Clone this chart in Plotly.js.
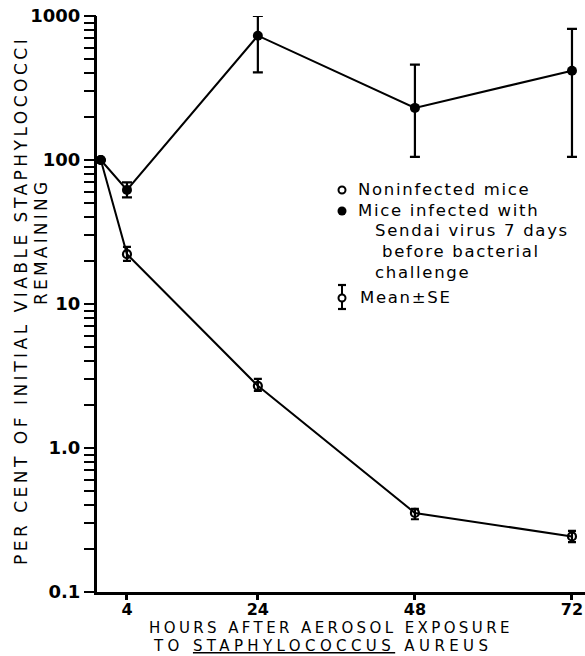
<!DOCTYPE html>
<html>
<head>
<meta charset="utf-8">
<script src="https://cdn.plot.ly/plotly-3.0.1.min.js"></script>
<style>html,body{margin:0;padding:0;background:#fff}#chart{width:585px;height:656px}</style>
</head>
<body>
<div id="chart"></div>
<script>
// ---- data ----
const hours = [0, 4, 24, 48, 72];
const noninfected = [100, 22.2, 2.7, 0.354, 0.243];
const noninfectedPlus = [null, 2.7, 0.32, 0.024, 0.023];
const noninfectedMinus = [null, 2.3, 0.21, 0.034, 0.021];
const infected = [100, 62, 730, 230, 417];
const infectedPlus = [null, 8, 270, 229, 396];
const infectedMinus = [null, 7, 324, 125, 312];
const xTickVals = [4, 24, 48, 72];
const xTickText = ["4", "24", "48", "72"];
const yMajorVals = [0.1, 1, 10, 100, 1000];
const yMajorText = ["0.1", "1.0", "10", "100", "1000"];
const legendLines = [
  "Noninfected mice",
  "Mice infected with",
  "Sendai virus 7 days",
  "before bacterial",
  "challenge",
  "Mean\u00b1SE"
];

// ---- layout helpers (pixel -> paper) ----
const L = 97, T = 16, W = 488, H = 576;
const px = x => (x - L) / W;
const py = y => (T + H - y) / H;

const FONT = "DejaVu Sans";
const sp = (t, ls) => `<span style="letter-spacing:${ls}px">${t}</span>`;

const traces = [
  {
    x: hours, y: infected, type: "scatter", mode: "lines+markers", cliponaxis: false,
    line: {color: "#000", width: 2},
    marker: {symbol: "circle", size: 10, color: "#000"},
    error_y: {type: "data", symmetric: false, array: infectedPlus, arrayminus: infectedMinus,
              color: "#000", thickness: 2.2, width: 5}
  },
  {
    x: hours, y: noninfected, type: "scatter", mode: "lines+markers", cliponaxis: false,
    line: {color: "#000", width: 2},
    marker: {symbol: "circle-open", size: 8, color: "#000", line: {width: 2.2, color: "#000"}},
    error_y: {type: "data", symmetric: false, array: noninfectedPlus, arrayminus: noninfectedMinus,
              color: "#000", thickness: 2.2, width: 4}
  },
  // transparent companion so the labelled decade axis (y2) is drawn
  {
    x: hours, y: noninfected, yaxis: "y2", type: "scatter", mode: "markers",
    marker: {size: 1, opacity: 0, color: "#fff"}, hoverinfo: "skip", showlegend: false
  }
];

const ann = [];
// y title (two lines)
ann.push({xref: "paper", yref: "paper", x: px(21), y: py(301), textangle: -90, showarrow: false,
  xanchor: "center", yanchor: "middle",
  text: sp("PER CENT OF INITIAL VIABLE STAPHYLOCOCCI", 3.5), font: {family: FONT, size: 17, color: "#000"}});
ann.push({xref: "paper", yref: "paper", x: px(41), y: py(242), textangle: -90, showarrow: false,
  xanchor: "center", yanchor: "middle",
  text: sp("REMAINING", 3.2), font: {family: FONT, size: 17, color: "#000"}});
// x title (two lines)
ann.push({xref: "paper", yref: "paper", x: px(331), y: py(628), showarrow: false,
  xanchor: "center", yanchor: "middle",
  text: sp("HOURS AFTER AEROSOL EXPOSURE", 3.4), font: {family: FONT, size: 15, color: "#000"}});
ann.push({xref: "paper", yref: "paper", x: px(322), y: py(646), showarrow: false,
  xanchor: "center", yanchor: "middle",
  text: sp("TO <u>STAPHYLOCOCCUS</u> AUREUS", 4.4), font: {family: FONT, size: 15, color: "#000"}});
// legend text
const legX = [356, 356, 373, 380, 373, 358];
const legY = [189, 210, 231, 251, 272, 297];
for (let i = 0; i < legendLines.length; i++) {
  ann.push({xref: "paper", yref: "paper", x: px(legX[i]), y: py(legY[i]), showarrow: false,
    xanchor: "left", yanchor: "middle",
    text: sp(legendLines[i], 1.7), font: {family: FONT, size: 16.5, color: "#000"}});
}

const shapes = [];
const circ = (cx, cy, r, filled) => ({type: "circle", xref: "paper", yref: "paper",
  xsizemode: "pixel", ysizemode: "pixel", xanchor: px(cx), yanchor: py(cy),
  x0: -r, x1: r, y0: -r, y1: r,
  line: {color: "#000", width: filled ? 0 : 2}, fillcolor: filled ? "#000" : "rgba(0,0,0,0)"});
const seg = (x0, y0, x1, y1, w) => ({type: "line", xref: "paper", yref: "paper",
  x0: px(x0), y0: py(y0), x1: px(x1), y1: py(y1), line: {color: "#000", width: w}});
shapes.push(circ(342, 190, 3.5, false));
shapes.push(circ(342, 211, 4.5, true));
// Mean ± SE key
shapes.push(seg(342, 285, 342, 309, 2));
shapes.push(seg(338, 285, 346, 285, 2.2));
shapes.push(seg(338, 309, 346, 309, 2.2));
shapes.push({type: "circle", xref: "paper", yref: "paper", xsizemode: "pixel", ysizemode: "pixel",
  xanchor: px(342), yanchor: py(298), x0: -3.5, x1: 3.5, y0: -3.5, y1: 3.5,
  line: {color: "#000", width: 2}, fillcolor: "#fff"});

const layout = {
  width: 585, height: 656,
  margin: {l: L, r: 0, t: T, b: 656 - T - H, pad: 0},
  paper_bgcolor: "#fff", plot_bgcolor: "#fff",
  showlegend: false,
  font: {family: FONT, color: "#000"},
  xaxis: {
    range: [-0.58, 73.99], showgrid: false, zeroline: false,
    showline: true, linewidth: 3, linecolor: "#000",
    ticks: "outside", ticklen: 5, tickwidth: 3, tickcolor: "#000",
    tickvals: xTickVals, ticktext: xTickText, ticklabelstandoff: -4,
    tickfont: {family: FONT, size: 16, color: "#000", weight: "bold"}
  },
  // every digit 1..9 of each decade, no labels
  yaxis: {
    type: "log", range: [-1, 3], dtick: "D1", showgrid: false, zeroline: false,
    showline: true, linewidth: 3, linecolor: "#000",
    ticks: "outside", ticklen: 10, tickwidth: 2, tickcolor: "#000",
    showticklabels: false
  },
  // labelled decade ticks
  yaxis2: {
    type: "log", range: [-1, 3], overlaying: "y", side: "left", anchor: "x",
    showgrid: false, zeroline: false, showline: false,
    ticks: "outside", ticklen: 12, tickwidth: 2, tickcolor: "#000",
    tickvals: yMajorVals, ticktext: yMajorText,
    tickfont: {family: FONT, size: 18, color: "#000", weight: "bold"}
  },
  annotations: ann,
  shapes: shapes
};

Plotly.newPlot("chart", traces, layout, {displayModeBar: false, staticPlot: true});
</script>
</body>
</html>
